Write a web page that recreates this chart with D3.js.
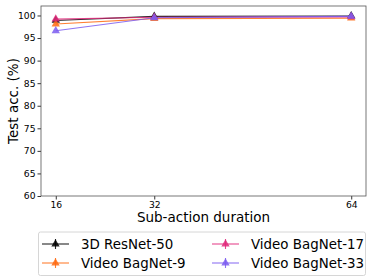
<!DOCTYPE html>
<html>
<head>
<meta charset="utf-8">
<script src="https://cdn.jsdelivr.net/npm/d3@7"></script>
<style>
body { margin: 0; background: #fff; }
text { font-family: "DejaVu Sans", sans-serif; }
</style>
</head>
<body>
<div id="chart"></div>
<script>
var durations = [16, 32, 64];
var seriesNames = ["3D ResNet-50", "Video BagNet-9", "Video BagNet-17", "Video BagNet-33"];
var resnet50 = [98.9, 99.8, 99.9];
var bagnet9 = [98.1, 99.3, 99.4];
var bagnet17 = [99.2, 99.6, 99.7];
var bagnet33 = [96.6, 99.5, 99.8];
var yTicks = [60, 65, 70, 75, 80, 85, 90, 95, 100];
var colors = ["#000000", "#ff6a10", "#e0287a", "#7b5cf0"];

var width = 374, height = 280;
var svg = d3.select("#chart").append("svg")
    .attr("width", width).attr("height", height);

var pLeft = 41, pRight = 366, pTop = 6, pBottom = 196;
var x = d3.scaleLinear().domain([13.6, 66.4]).range([pLeft, pRight]);
var y = d3.scaleLinear().domain([60, 102.1]).range([pBottom, pTop]);

var xAxis = svg.append("g").attr("transform", "translate(0," + pBottom + ")")
    .call(d3.axisBottom(x).tickValues(durations).tickSize(3.5).tickPadding(1.5));
var yAxis = svg.append("g").attr("transform", "translate(" + pLeft + ",0)")
    .call(d3.axisLeft(y).tickValues(yTicks).tickSize(3.5).tickPadding(2));
[xAxis, yAxis].forEach(function(a) {
  a.select(".domain").remove();
  a.selectAll("text").attr("font-size", 9.2).attr("fill", "#000").style("font-family", "DejaVu Sans");
  a.selectAll("line").attr("stroke", "#000").attr("stroke-width", 0.8);
});

svg.append("rect").attr("x", pLeft).attr("y", pTop)
  .attr("width", pRight - pLeft).attr("height", pBottom - pTop)
  .attr("fill", "none").attr("stroke", "#555").attr("stroke-width", 0.8);

var all = [resnet50, bagnet9, bagnet17, bagnet33];
var line = d3.line().x(function(d, i) { return x(durations[i]); }).y(function(d) { return y(d); });
var tri = d3.symbol().type(d3.symbolTriangle).size(30);

all.forEach(function(vals, k) {
  var g = svg.append("g");
  g.append("path").datum(vals).attr("d", line)
    .attr("fill", "none").attr("stroke", colors[k]).attr("stroke-width", 1.1).attr("stroke-opacity", 0.85);
  g.selectAll("path.m").data(vals).enter().append("path").attr("class", "m")
    .attr("d", tri)
    .attr("transform", function(d, i) { return "translate(" + x(durations[i]) + "," + y(d) + ")"; })
    .attr("fill", colors[k]).attr("fill-opacity", 0.85);
});

svg.append("text").attr("x", (pLeft + pRight) / 2).attr("y", 221.8)
  .attr("text-anchor", "middle").attr("font-size", 13.5).text("Sub-action duration");
svg.append("text").attr("transform", "translate(17.5," + ((pTop + pBottom) / 2) + ") rotate(-90)")
  .attr("text-anchor", "middle").attr("font-size", 13.5).text("Test acc. (%)");

// legend
var lg = svg.append("g");
lg.append("rect").attr("x", 38.5).attr("y", 232).attr("width", 327).attr("height", 43.5)
  .attr("rx", 2).attr("fill", "#fff").attr("stroke", "#ccc").attr("stroke-width", 0.8);
var pos = [[42, 244], [42, 263], [212, 244], [212, 263]];
seriesNames.forEach(function(n, k) {
  var p = pos[k];
  var gi = lg.append("g").attr("transform", "translate(" + p[0] + "," + p[1] + ")");
  gi.append("line").attr("x1", 0).attr("x2", 27).attr("y1", 0).attr("y2", 0)
    .attr("stroke", colors[k]).attr("stroke-width", 1.1).attr("stroke-opacity", 0.85);
  gi.append("line").attr("x1", 13.5).attr("x2", 13.5).attr("y1", -5).attr("y2", 5)
    .attr("stroke", colors[k]).attr("stroke-width", 1.1).attr("stroke-opacity", 0.85);
  gi.append("path").attr("d", tri).attr("transform", "translate(13.5,0)")
    .attr("fill", colors[k]).attr("fill-opacity", 0.85);
  gi.append("text").attr("x", 39).attr("y", 4.8).attr("font-size", 13.4).text(n);
});
</script>
</body>
</html>
